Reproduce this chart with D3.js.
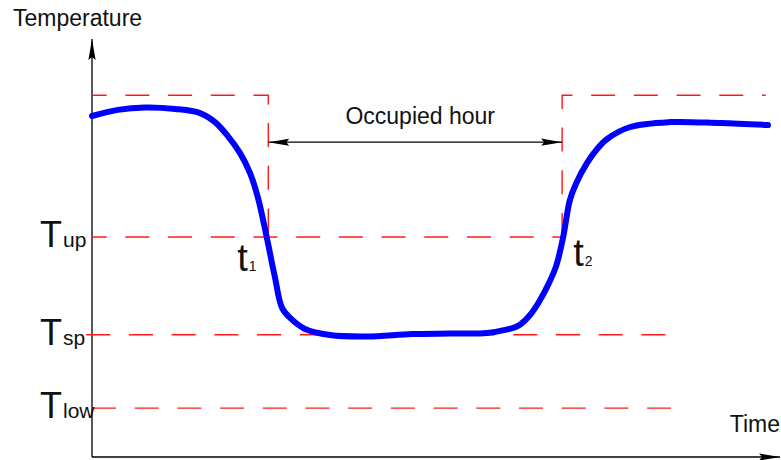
<!DOCTYPE html>
<html>
<head>
<meta charset="utf-8">
<script src="https://cdn.jsdelivr.net/npm/d3@7"></script>
<style>
  body { margin: 0; background: #fff; }
  svg { display: block; font-family: "Liberation Sans", Arial, sans-serif; }
</style>
</head>
<body>
<div id="chart"></div>
<script>
// time in hours, temperature in degC
const curveTime = [0, 0.9, 1.85, 2.9, 3.77, 4.29, 4.74, 5.16, 5.51, 5.79, 6.1, 6.38, 6.63, 6.91, 7.43, 8.3, 9.59, 11.16, 12.49, 13.78, 14.41, 14.86, 15.28, 15.63, 15.91, 16.19, 16.43, 16.67, 16.88, 17.27, 17.62, 17.97, 18.77, 20.16, 21.91, 23.58];
const curveTemp = [28.95, 29.2, 29.3, 29.24, 29.07, 28.7, 28.13, 27.44, 26.62, 25.6, 23.96, 22.36, 21.1, 20.69, 20.24, 19.99, 19.93, 20.03, 20.05, 20.07, 20.2, 20.36, 20.81, 21.42, 22.04, 22.81, 23.96, 25.51, 26.17, 27.03, 27.6, 28.01, 28.5, 28.7, 28.66, 28.58];

const levelNames = ["up", "sp", "low"];
const levelTemps = [24, 20, 17];
const setbackTemp = 29.8;
const occupiedStart = 6.15;   // t1
const occupiedEnd = 16.4;     // t2
const timeEnd = 24;

const width = 781, height = 460;
const margin = {top: 39, right: 1, bottom: 3, left: 92};

const svg = d3.select("#chart")
  .append("svg")
  .attr("width", width)
  .attr("height", height);

const x = d3.scaleLinear()
  .domain([0, timeEnd])
  .range([margin.left, width - margin.right]);

const y = d3.scaleLinear()
  .domain([15, 32.1])
  .range([height - margin.bottom, margin.top]);

// arrow marker
const defs = svg.append("defs");
defs.append("marker")
  .attr("id", "arrow")
  .attr("viewBox", "0 0 21 8")
  .attr("refX", 21)
  .attr("refY", 4)
  .attr("markerWidth", 21)
  .attr("markerHeight", 8)
  .attr("markerUnits", "userSpaceOnUse")
  .attr("orient", "auto-start-reverse")
  .append("path")
  .attr("d", "M0,0.4 L21,4 L0,7.6 L3,4 Z")
  .attr("fill", "#000");

// axes
const x0 = x(0), y0 = y(15);
svg.append("line")
  .attr("x1", x0).attr("y1", y0)
  .attr("x2", x0).attr("y2", y(32.1))
  .attr("stroke", "#000").attr("stroke-width", 1.3)
  .attr("marker-end", "url(#arrow)");
svg.append("line")
  .attr("x1", x0).attr("y1", y0)
  .attr("x2", x(timeEnd)).attr("y2", y0)
  .attr("stroke", "#000").attr("stroke-width", 1.3)
  .attr("marker-end", "url(#arrow)");

// red dashed reference lines
const dashed = (pts, offset) => svg.append("path")
  .attr("d", d3.line().x(d => x(d[0])).y(d => y(d[1]))(pts))
  .attr("fill", "none")
  .attr("stroke", "#ff1a1a")
  .attr("stroke-width", 1.4)
  .attr("stroke-dasharray", "24,18.7")
  .attr("stroke-dashoffset", offset);

// setback limit (left, then right)
dashed([[0, setbackTemp], [occupiedStart, setbackTemp], [occupiedStart, levelTemps[0]]], 9.3);
dashed([[occupiedEnd, levelTemps[0]], [occupiedEnd, setbackTemp], [23.5, setbackTemp]], 0);
// T up
dashed([[0, levelTemps[0]], [occupiedEnd, levelTemps[0]]], 9.3);
// T sp
dashed([[-0.2, levelTemps[1]], [20.4, levelTemps[1]]], 0);
// T low
dashed([[0, levelTemps[2]], [20.2, levelTemps[2]]], 0);

// temperature curve
const pts = curveTime.map((t, i) => [t, curveTemp[i]]);
svg.append("path")
  .attr("d", d3.line()
    .x(d => x(d[0]))
    .y(d => y(d[1]))
    .curve(d3.curveCatmullRom.alpha(0.5))(pts))
  .attr("fill", "none")
  .attr("stroke", "#0000ff")
  .attr("stroke-width", 6)
  .attr("stroke-linecap", "round")
  .attr("stroke-linejoin", "round");

// occupied hour arrow
const arrowY = y(setbackTemp) + 47;
svg.append("line")
  .attr("x1", x(occupiedStart)).attr("y1", arrowY)
  .attr("x2", x(occupiedEnd)).attr("y2", arrowY)
  .attr("stroke", "#000").attr("stroke-width", 1.3)
  .attr("marker-start", "url(#arrow)")
  .attr("marker-end", "url(#arrow)");
svg.append("text")
  .attr("x", (x(occupiedStart) + x(occupiedEnd)) / 2 + 5)
  .attr("y", arrowY - 18)
  .attr("text-anchor", "middle")
  .attr("font-size", 23)
  .attr("fill", "#111")
  .text("Occupied hour");

// axis titles
svg.append("text")
  .attr("x", 13).attr("y", 26)
  .attr("font-size", 23)
  .attr("fill", "#111")
  .text("Temperature");
svg.append("text")
  .attr("x", 780).attr("y", 432)
  .attr("text-anchor", "end")
  .attr("font-size", 23)
  .attr("fill", "#111")
  .text("Time");

// T labels
levelNames.forEach((name, i) => {
  const t = svg.append("text")
    .attr("x", 40)
    .attr("y", y(levelTemps[i]) + 10)
    .attr("fill", "#111");
  t.append("tspan").attr("font-size", 36).text("T");
  t.append("tspan").attr("font-size", 21).attr("dx", 1).text(name);
});

// t1, t2 labels
const tLabel = (px, py, sub) => {
  const t = svg.append("text")
    .attr("x", px).attr("y", py)
    .attr("fill", "#111");
  t.append("tspan").attr("font-size", 38).text("t");
  t.append("tspan").attr("font-size", 14).attr("dx", 1).text(sub);
};
tLabel(x(occupiedStart) - 31, y(levelTemps[0]) + 34, "1");
tLabel(x(occupiedEnd) + 11, y(levelTemps[0]) + 29, "2");
</script>
</body>
</html>
